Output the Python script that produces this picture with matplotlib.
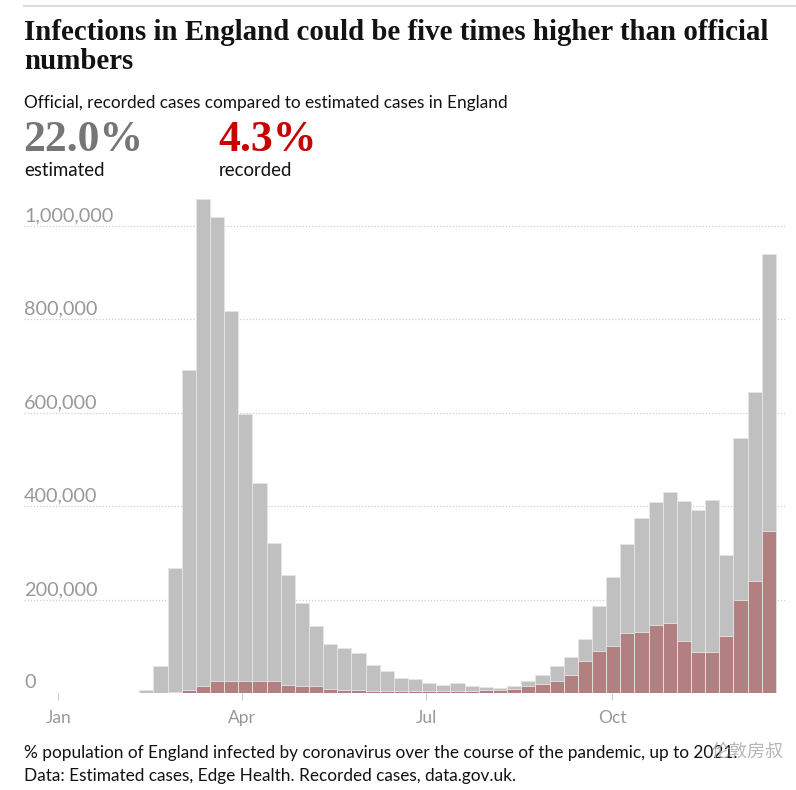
import numpy as np
import pandas as pd
import matplotlib
matplotlib.use('Agg')
import matplotlib.pyplot as plt
import matplotlib.dates as mdates

# weekly estimated vs recorded cases in England, 2020
weeks = pd.date_range('2020-02-03', periods=46, freq='7D')
estimated = [1000, 6000, 57000, 267000, 691000, 1058000, 1019000, 817000, 598000, 450000,
             321000, 253000, 193000, 144000, 104000, 96000, 86000, 59000, 48000, 32000,
             31000, 22000, 17000, 21000, 16000, 13000, 11000, 16000, 26000, 39000,
             57000, 78000, 116000, 187000, 249000, 320000, 374000, 408000, 431000, 412000,
             391000, 414000, 296000, 547000, 645000, 939000]
recorded = [0, 0, 0, 3000, 7000, 16000, 25000, 26000, 25000, 26000,
            26000, 18000, 16000, 14000, 9000, 7000, 7000, 5000, 5000, 4000,
            5000, 5000, 5000, 5000, 5000, 7000, 7000, 9000, 16000, 19000,
            26000, 39000, 69000, 91000, 100000, 128000, 130000, 146000, 150000, 112000,
            87000, 88000, 123000, 199000, 239000, 347000]
yticks = [0, 200000, 400000, 600000, 800000, 1000000]
xticks = ['2020-01-01', '2020-04-01', '2020-07-01', '2020-10-01']

grey = '#c0c0c0'
red = '#b38082'

fig = plt.figure(figsize=(7.96, 7.90), dpi=100)
W, H = 796, 790

def fx(px):
    return px / W

def fy(py):
    return 1 - py / H

# top rule
fig.add_artist(plt.Line2D([fx(24), 1], [fy(6), fy(6)], color='#dcdcdc', lw=1.5))

fig.text(fx(24), fy(40), 'Infections in England could be five times higher than official',
         family='Liberation Serif', weight='bold', fontsize=20.8, va='baseline', color='#121212')
fig.text(fx(24), fy(69), 'numbers',
         family='Liberation Serif', weight='bold', fontsize=20.8, va='baseline', color='#121212')
fig.text(fx(24), fy(108), 'Official, recorded cases compared to estimated cases in England',
         family='Lato', fontsize=12.4, va='baseline', color='#121212')
fig.text(fx(23), fy(151), '22.0%', family='Liberation Serif', weight='bold',
         fontsize=31.5, va='baseline', color='#767676')
fig.text(fx(24), fy(176), 'estimated', family='Lato', fontsize=13.4, va='baseline', color='#121212')
fig.text(fx(218), fy(151), '4.3%', family='Liberation Serif', weight='bold',
         fontsize=31.5, va='baseline', color='#c70000')
fig.text(fx(219), fy(176), 'recorded', family='Lato', fontsize=13.4, va='baseline', color='#121212')

ax = fig.add_axes([fx(24), fy(693), fx(786) - fx(24), (693 - 190) / H])
ax.bar(weeks, estimated, width=7, align='edge', color=grey, edgecolor='#e6e6e6', linewidth=0.6, zorder=2)
ax.bar(weeks, recorded, width=7, align='edge', color=red, edgecolor='#e6e6e6', linewidth=0.6, zorder=3)

ymax = (693 - 190) * 1000000 / 467
ax.set_ylim(0, ymax)
ax.set_xlim(pd.Timestamp('2019-12-15'), pd.Timestamp('2020-12-26'))

for v in yticks:
    ax.axhline(v, color='#cfcfcf', lw=0.9, ls=(0, (1, 1.5)), zorder=1)
    ax.text(0, v + 3500, f'{v:,}', transform=ax.get_yaxis_transform(), ha='left', va='bottom',
            family='Lato', fontsize=14.3, color='#999999', zorder=4)

ax.set_yticks([])
ax.set_xticks([pd.Timestamp(d) for d in xticks])
ax.xaxis.set_major_formatter(mdates.DateFormatter('%b'))
ax.tick_params(axis='x', length=5, width=0.8, color='#cccccc', labelcolor='#999999',
               labelsize=12.5, pad=7)
for lab in ax.get_xticklabels():
    lab.set_family('Lato')
for s in ax.spines.values():
    s.set_visible(False)

fig.text(fx(24), fy(758), '% population of England infected by coronavirus over the course of the pandemic, up to 2021.',
         family='Lato', fontsize=12.4, va='baseline', color='#121212')
fig.text(fx(24), fy(781), 'Data: Estimated cases, Edge Health. Recorded cases, data.gov.uk.',
         family='Lato', fontsize=12.4, va='baseline', color='#121212')
fig.text(fx(712), fy(757), '伦敦房叔', family=['Noto Sans CJK SC', 'DejaVu Sans'],
         fontsize=13, va='baseline', color='#aaaaaa', alpha=0.85)

fig.savefig('out.png', dpi=100)
